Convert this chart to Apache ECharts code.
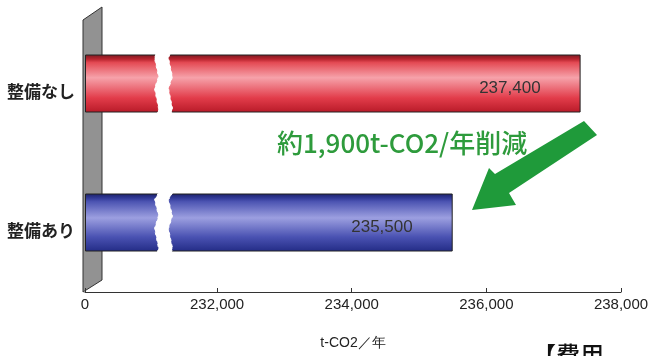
<!DOCTYPE html>
<html>
<head>
<meta charset="utf-8">
<script src="https://cdn.jsdelivr.net/npm/echarts@6.0.0/dist/echarts.min.js"></script>
<style>
html, body { margin: 0; padding: 0; background: #fff; }
#main { width: 648px; height: 356px; }
</style>
</head>
<body>
<div id="main"></div>
<script>
// chart data
var categories = ['整備なし', '整備あり'];
var values = [237400, 235500];
var tickValues = [0, 232000, 234000, 236000, 238000];
var breakRange = [1055, 231300];
var axisName = 't-CO2／年';
var noteText = '約1,900t-CO2/年削減';
var cornerText = '【費用';

var numFont = "'Liberation Sans', Arial, sans-serif";
var jpFont = "'Noto Sans CJK JP', sans-serif";

function fmt(v) {
    return String(v).replace(/\B(?=(\d{3})+(?!\d))/g, ',');
}

function barFill(stops) {
    return new echarts.graphic.LinearGradient(0, 0, 0, 1, stops.map(function (s) {
        return { offset: s[0], color: s[1] };
    }));
}

var fills = [
    barFill([[0, '#7a1820'], [0.08, '#b8242e'], [0.14, '#e44a54'], [0.4, '#f6a2aa'], [0.75, '#e23c4a'], [1, '#b81a28']]),
    barFill([[0, '#1a1f66'], [0.08, '#323a98'], [0.14, '#4c54b2'], [0.42, '#9c9fe0'], [0.75, '#4a52b2'], [1, '#232c86']])
];

function draw() {
    var chart = echarts.init(document.getElementById('main'), null, { renderer: 'canvas' });
    var data = values.map(function (v, i) {
        return { value: v, itemStyle: { color: fills[i] } };
    });
    var option = {
        backgroundColor: '#fff',
        animation: false,
        grid: { left: 85, right: 27, top: 14, bottom: 64, outerBoundsMode: 'none' },
        xAxis: {
            type: 'value',
            min: 0,
            max: 238000,
            breaks: [{ start: breakRange[0], end: breakRange[1], gap: '2.6%' }],
            breakArea: {
                show: true,
                itemStyle: { color: '#fff', borderColor: '#fff', borderWidth: 1, opacity: 1 },
                zigzagAmplitude: 2
            },
            splitLine: { show: false },
            axisLine: { show: true, breakLine: false, lineStyle: { color: '#333', width: 1 } },
            axisTick: { show: true, inside: true, length: 4, customValues: tickValues, lineStyle: { color: '#333' } },
            axisLabel: {
                customValues: tickValues,
                formatter: function (v) { return fmt(v); },
                margin: 5,
                fontSize: 15,
                fontFamily: numFont,
                color: '#222'
            },
            name: axisName,
            nameLocation: 'middle',
            nameGap: 44,
            nameTextStyle: { fontSize: 14, color: '#222', fontFamily: numFont }
        },
        yAxis: {
            type: 'category',
            data: categories,
            inverse: true,
            axisLine: { show: false },
            axisTick: { show: false },
            axisLabel: {
                margin: 10,
                fontSize: 17,
                fontWeight: 'bold',
                color: '#222',
                fontFamily: jpFont,
                verticalAlign: 'top',
                padding: [0, 0, 0, 0]
            }
        },
        series: [{
            type: 'bar',
            data: data,
            barWidth: 58,
            z: 5,
            itemStyle: { borderColor: '#222', borderWidth: 1 },
            label: {
                show: true,
                position: 'insideRight',
                distance: 40,
                offset: [0, 5],
                formatter: function (p) { return fmt(p.value); },
                fontSize: 17,
                fontFamily: numFont,
                color: '#333'
            }
        }],
        graphic: [
            {
                type: 'polygon',
                z: 0,
                shape: { points: [[83, 20], [102, 7], [102, 280], [83, 292]] },
                style: { fill: '#929292', stroke: '#333', lineWidth: 1 }
            },
            {
                type: 'polygon',
                z: 100,
                shape: { points: [[597, 135], [584, 121], [495, 174], [489, 168], [472, 210], [516, 205], [509, 193]] },
                style: { fill: '#1f9a3a' }
            },
            {
                type: 'text',
                z: 100,
                left: 277,
                top: 130,
                style: {
                    text: noteText,
                    fill: '#2e9b3c',
                    font: '500 26px ' + jpFont
                }
            },
            {
                type: 'text',
                z: 100,
                left: 532,
                top: 343,
                style: { text: cornerText, fill: '#111', font: '500 24px ' + jpFont }
            }
        ]
    };
    chart.setOption(option);
}

draw();
</script>
</body>
</html>
